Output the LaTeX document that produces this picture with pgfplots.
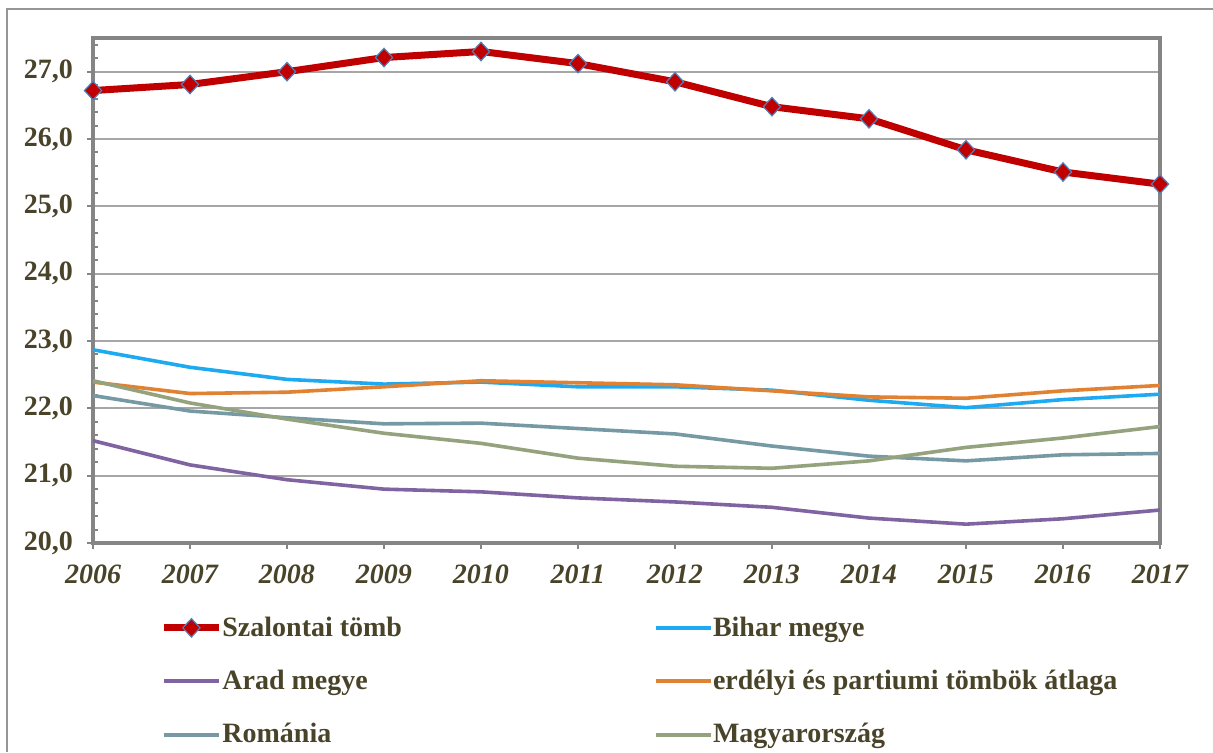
\documentclass[border=0pt]{standalone}
\usepackage{fontspec}
\setmainfont{Liberation Serif}
\usepackage{pgfplots}
\usepackage{pgfplotstable}
\pgfplotsset{compat=1.18}
\definecolor{txt}{RGB}{73,68,41}
\definecolor{axgray}{RGB}{133,133,133}
\definecolor{gridgray}{RGB}{166,166,166}
\definecolor{frame}{RGB}{150,150,150}
\definecolor{cRed}{RGB}{192,0,0}
\definecolor{cMark}{RGB}{79,129,189}
\definecolor{cBlue}{RGB}{30,170,240}
\definecolor{cPurple}{RGB}{128,100,162}
\definecolor{cOrange}{RGB}{224,130,50}
\definecolor{cRom}{RGB}{118,154,164}
\definecolor{cHun}{RGB}{148,162,126}

\pgfplotstableread{
year szal bihar arad erd rom hun
2006 26.72 22.87 21.52 22.39 22.19 22.41
2007 26.81 22.61 21.16 22.22 21.96 22.08
2008 27.00 22.43 20.94 22.24 21.86 21.84
2009 27.21 22.36 20.80 22.32 21.77 21.63
2010 27.30 22.39 20.76 22.41 21.78 21.48
2011 27.12 22.32 20.67 22.38 21.70 21.26
2012 26.85 22.32 20.61 22.35 21.62 21.14
2013 26.48 22.27 20.53 22.26 21.44 21.11
2014 26.30 22.12 20.37 22.17 21.29 21.22
2015 25.84 22.01 20.28 22.15 21.22 21.42
2016 25.51 22.13 20.36 22.26 21.31 21.56
2017 25.33 22.21 20.49 22.34 21.33 21.73
}\data

\begin{document}
\begin{tikzpicture}
\useasboundingbox (0pt,0pt) rectangle (606.5pt,376pt);
\draw[frame, line width=1pt] (3.5pt,0pt) -- (3.5pt,371.5pt) -- (606.5pt,371.5pt);
\begin{axis}[
  at={(46.5pt,104.5pt)}, anchor=south west, scale only axis,
  width=533.5pt, height=252.5pt,
  xmin=2006, xmax=2017, ymin=20, ymax=27.5,
  xtick={2006,...,2017},
  ytick={20,21,...,27},
  xtick pos=left, ytick pos=left,
  tick align=outside,
  major tick length=3pt,
  tick style={axgray, line width=1pt},
  axis line style={axgray, line width=2pt},
  ymajorgrids,
  major grid style={gridgray, line width=1.1pt},
  extra y ticks={20.2,20.4,20.6,20.8,21.2,21.4,21.6,21.8,22.2,22.4,22.6,22.8,23.2,23.4,23.6,23.8,24.2,24.4,24.6,24.8,25.2,25.4,25.6,25.8,26.2,26.4,26.6,26.8,27.2,27.4},
  extra y tick labels={},
  extra y tick style={grid=none, tick align=inside, major tick length=2.5pt},
  /pgf/number format/assume math mode=true,
  yticklabel style={font=\fontsize{14}{16}\selectfont\bfseries, color=txt, xshift=-3.5pt,
    /pgf/number format/.cd, fixed, fixed zerofill, precision=1, use comma},
  xticklabel style={font=\fontsize{14}{16}\selectfont\bfseries\itshape, color=txt, yshift=-4.5pt,
    /pgf/number format/.cd, 1000 sep={}},
  clip=false,
  legend columns=2,
  legend style={draw=none, fill=none, inner sep=0pt,
    at={(0.0628,-0.145)}, anchor=north west,
    font=\fontsize{14}{16}\selectfont\bfseries, text=txt,
    cells={anchor=west},
    row sep=15.5pt,
    nodes={inner sep=0pt},
    /tikz/every even column/.append style={column sep=0pt}},
  legend image code/.code={
    \draw[mark repeat=2,mark phase=2,#1] plot coordinates {(0pt,0pt) (13.75pt,0pt) (27.5pt,0pt)};
  },
]
\addplot[cRed, line width=3.5pt, mark=diamond*, mark size=4.6pt,
  mark options={solid, xscale=1.25, fill=cRed, draw=cMark, line width=0.6pt}]
  table[x=year, y=szal] {\data};
\addlegendentry{\makebox[216pt][l]{Szalontai tömb}}
\addplot[cBlue, line width=1.8pt] table[x=year, y=bihar] {\data};
\addlegendentry{Bihar megye}
\addplot[cPurple, line width=1.8pt] table[x=year, y=arad] {\data};
\addlegendentry{Arad megye}
\addplot[cOrange, line width=1.8pt] table[x=year, y=erd] {\data};
\addlegendentry{erdélyi és partiumi tömbök átlaga}
\addplot[cRom, line width=1.8pt] table[x=year, y=rom] {\data};
\addlegendentry{Románia}
\addplot[cHun, line width=1.8pt] table[x=year, y=hun] {\data};
\addlegendentry{Magyarország}
\end{axis}
\end{tikzpicture}
\end{document}
